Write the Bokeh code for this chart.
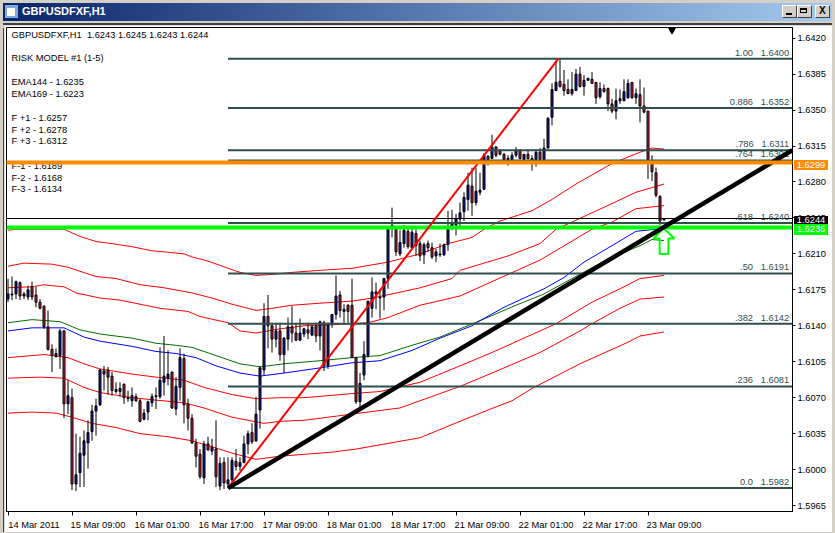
from bokeh.embed import file_html
from bokeh.layouts import column
from bokeh.models import ColumnDataSource, Div, FixedTicker, Label, Range1d
from bokeh.plotting import figure
from bokeh.resources import INLINE
from bokeh.core.properties import value

# ---------- data (prices in pips: 16244 = 1.6244) ----------
highs = [16186,16188,16184,16183,16173,16179,16183,16178,16166,16160,16155,16122,16118,16137,16136,16087,16079,16035,16032,16038,
         16048,16063,16069,16098,16101,16100,16095,16085,16085,16084,16077,16080,16074,16069,16059,16067,16074,16080,16119,16130,
         16116,16095,16090,16118,16113,16069,16054,16030,16020,16028,16032,16030,16048,16012,16012,16012,16012,16020,16012,16033,
         16038,16045,16071,16101,16162,16170,16143,16142,16143,16129,16148,16159,16142,16147,16138,16143,16140,16143,16145,16145,
         16143,16151,16189,16174,16161,16161,16186,16109,16094,16125,16164,16187,16182,16176,16186,16236,16255,16237,16233,16238,
         16237,16236,16234,16223,16221,16223,16221,16215,16220,16220,16252,16253,16249,16260,16270,16289,16294,16294,16289,16308,
         16306,16326,16315,16312,16308,16306,16309,16314,16312,16307,16312,16306,16312,16313,16322,16343,16376,16398,16400,16389,
         16380,16387,16390,16392,16384,16381,16387,16377,16377,16375,16372,16361,16371,16370,16380,16380,16377,16371,16380,16372,
         16349,16306,16294,16267,16245]
lows = [16163,16165,16166,16165,16166,16165,16165,16158,16156,16137,16116,16095,16109,16098,16050,16054,15980,15979,15983,15983,
        16001,16028,16033,16062,16077,16073,16072,16074,16071,16064,16066,16061,16066,16046,16048,16048,16061,16059,16069,16072,
        16082,16059,16053,16067,16045,16038,16025,16002,15991,15986,16019,16014,15983,15980,15981,15982,15986,15999,15999,16006,
        16015,16025,16027,16040,16092,16118,16114,16119,16106,16094,16116,16124,16125,16125,16129,16127,16130,16124,16116,16096,
        16098,16138,16146,16148,16143,16143,16109,16064,16059,16087,16109,16148,16156,16147,16155,16176,16226,16208,16208,16216,
        16215,16215,16208,16203,16200,16212,16205,16202,16207,16208,16213,16233,16228,16237,16242,16252,16247,16257,16267,16272,
        16296,16303,16304,16306,16301,16296,16301,16304,16302,16299,16302,16291,16295,16301,16301,16313,16335,16369,16372,16364,
        16366,16364,16369,16372,16364,16379,16376,16356,16361,16367,16349,16347,16341,16356,16359,16361,16361,16356,16338,16347,
        16283,16281,16265,16238,16243]
opens = [16166,16170,16171,16182,16169,16168,16178,16170,16163,16159,16139,16117,16110,16111,16135,16064,16070,15986,15997,16014,
         16026,16037,16057,16063,16093,16097,16091,16076,16076,16083,16069,16067,16071,16067,16049,16056,16065,16071,16071,16085,
         16089,16095,16059,16080,16108,16064,16050,16026,16015,15992,16025,16018,16020,15984,16007,15986,15990,16008,16003,16007,
         16025,16036,16028,16058,16097,16149,16140,16127,16135,16112,16127,16139,16133,16126,16132,16136,16131,16140,16130,16143,
         16101,16142,16151,16170,16154,16160,16160,16109,16066,16092,16111,16157,16173,16167,16168,16186,16238,16236,16210,16220,
         16232,16216,16230,16220,16209,16220,16216,16208,16210,16209,16219,16237,16238,16244,16251,16263,16276,16260,16270,16273,
         16305,16303,16314,16310,16307,16302,16302,16306,16311,16302,16307,16301,16302,16309,16302,16313,16343,16369,16378,16375,
         16370,16366,16369,16385,16373,16379,16380,16377,16363,16371,16371,16356,16349,16359,16359,16362,16377,16362,16365,16354,
         16349,16298,16289,16266,16243]
closes = [16171,16171,16183,16169,16171,16175,16168,16163,16157,16139,16117,16111,16113,16135,16064,16072,15986,15995,16016,16028,
          16036,16057,16062,16097,16096,16090,16077,16078,16079,16070,16070,16072,16067,16047,16055,16066,16071,16072,16087,16091,
          16093,16060,16081,16109,16063,16050,16026,16013,15993,16025,16019,16022,15993,16006,15987,15990,16009,16003,16007,16025,
          16035,16027,16054,16099,16149,16140,16127,16135,16112,16128,16139,16133,16126,16133,16137,16133,16139,16130,16144,16101,
          16142,16151,16169,16155,16156,16154,16109,16066,16084,16112,16164,16173,16171,16168,16186,16234,16236,16212,16221,16233,
          16217,16231,16218,16208,16219,16216,16207,16212,16209,16219,16234,16239,16244,16250,16265,16277,16260,16271,16272,16306,
          16302,16314,16306,16307,16302,16303,16306,16311,16303,16307,16303,16303,16309,16302,16313,16342,16370,16377,16373,16369,
          16366,16370,16385,16373,16379,16381,16376,16362,16371,16368,16356,16349,16359,16361,16368,16376,16362,16366,16354,16348,
          16302,16290,16267,16242,16244]

band1_bars = [0,2,14,18,22,26,31,36,39,44,46,50,55,58,62,66,71,78,86,95,103,110,116,119,123,131,136,142,151,158,161,164]
band1_vals = [16233,16234,16234,16227,16222,16220,16217,16213,16212,16210,16207,16203,16196,16192,16189,16190,16192,16194,16196,16202,16210,16220,16226,16234,16242,16252,16263,16278,16298,16309,16313,16312]
band2_bars = [0,4,11,15,18,22,27,33,39,46,51,56,62,66,71,78,86,91,96,103,111,113,125,133,137,141,151,157,164]
band2_vals = [16198,16201,16200,16197,16193,16188,16186,16180,16177,16172,16167,16161,16155,16157,16160,16162,16164,16167,16171,16177,16186,16194,16208,16220,16234,16241,16259,16270,16278]
band3_bars = [0,6,9,11,14,17,23,28,33,38,45,48,55,58,62,68,74,81,90,95,103,113,125,133,146,151,157,164]
band3_vals = [16177,16178,16180,16179,16178,16172,16167,16165,16161,16157,16154,16149,16143,16135,16133,16137,16140,16141,16143,16148,16160,16169,16190,16204,16234,16241,16254,16257]
band4_bars = [0,9,15,19,23,31,37,44,49,56,62,68,74,86,93,103,113,121,133,137,146,153,158,164]
band4_vals = [16109,16112,16109,16103,16098,16093,16090,16087,16080,16073,16069,16070,16070,16074,16076,16085,16101,16114,16135,16142,16163,16176,16186,16189]
band5_bars = [0,8,14,19,23,31,36,44,49,56,64,68,74,86,98,113,121,133,143,146,153,158,164]
band5_vals = [16089,16090,16089,16080,16075,16070,16068,16065,16060,16051,16045,16047,16048,16054,16060,16081,16094,16114,16135,16142,16157,16166,16168]
band6_bars = [0,6,12,16,21,27,33,40,46,52,56,62,68,81,87,103,113,120,126,131,143,155,158,164]
band6_vals = [16055,16056,16055,16051,16045,16041,16035,16032,16028,16021,16016,16010,16013,16017,16020,16031,16047,16058,16067,16079,16103,16124,16130,16134]
ema144_bars = [0,6,14,19,23,31,37,42,47,52,58,63,69,78,86,93,101,108,116,118,124,134,139,144,151,157,162,164]
ema144_vals = [16135,16138,16138,16129,16125,16120,16115,16113,16109,16101,16094,16091,16094,16099,16104,16106,16116,16128,16140,16145,16158,16176,16187,16202,16218,16232,16234,16235]
ema169_bars = [0,6,13,18,23,31,37,42,46,52,58,63,69,78,86,93,101,108,113,118,127,134,141,150,158,161,164]
ema169_vals = [16143,16146,16144,16136,16132,16128,16123,16121,16119,16111,16103,16100,16103,16106,16109,16111,16121,16129,16137,16145,16160,16171,16186,16205,16218,16224,16223]

fib_levels = ["1.00", "0.886", ".786", ".764", ".618", ".50", ".382", ".236", "0.0"]
fib_prices = [1.6400, 1.6352, 1.6311, 1.6301, 1.6240, 1.6191, 1.6142, 1.6081, 1.5982]
fib_start_bar = 55
swing_bars = [55, 137.6]
swing_prices = [1.5982, 1.6400]
trend_bars = [55, 196.1]
trend_prices = [1.5982, 1.6311]
arrow_bars = [163.9, 166.6, 165.1, 165.1, 162.9, 162.9, 161.4, 163.9]
arrow_prices = [1.6235, 1.6225, 1.6225, 1.6210, 1.6210, 1.6225, 1.6225, 1.6235]
orange_price = 1.6299
green_price = 1.6236
bid_price = 1.6244

y_ticks = [1.6420, 1.6385, 1.6350, 1.6315, 1.6280, 1.6245, 1.6210, 1.6175, 1.6140, 1.6105, 1.6070, 1.6035, 1.6000, 1.5965]
x_tick_bars = [0, 16, 32, 48, 64, 80, 96, 112, 128, 144, 160]
x_tick_labels = ["14 Mar 2011", "15 Mar 09:00", "16 Mar 01:00", "16 Mar 17:00", "17 Mar 09:00", "18 Mar 01:00",
                 "18 Mar 17:00", "21 Mar 09:00", "22 Mar 01:00", "22 Mar 17:00", "23 Mar 09:00"]

info_lines = [("GBPUSDFXF,H1\u00a0\u00a01.6243 1.6245 1.6243 1.6244", 34), ("RISK MODEL #1 (1-5)", 57),
              ("EMA144 - 1.6235", 81), ("EMA169 - 1.6223", 93),
              ("F +1 - 1.6257", 117), ("F +2 - 1.6278", 129), ("F +3 - 1.6312", 140),
              ("F-1 - 1.6189", 165), ("F-2 - 1.6168", 177), ("F-3 - 1.6134", 188)]

FONT = "Liberation Sans"
FS = "9.3px"
SLATE = "#2f4f4f"
GRAY = "#d4d0c8"
OX, OY = 4, 25  # offset of the figure in the window
FIG_H = 504

p = figure(width=828, height=FIG_H, frame_width=786, frame_height=484,
           x_range=Range1d(-0.375, 196.125), y_range=Range1d(1.59592, 1.64304),
           y_axis_location="right", output_backend="svg", toolbar_location=None,
           min_border_left=2, min_border_right=40, min_border_top=2, min_border_bottom=18,
           background_fill_color="white", border_fill_color="white",
           outline_line_color="black", margin=(0, 3, 0, 4))
p.grid.visible = False

for ax in (p.xaxis[0], p.yaxis[0]):
    ax.axis_line_color = "black"
    ax.major_tick_line_color = "black"
    ax.major_tick_in = 0
    ax.major_tick_out = 3
    ax.major_label_text_font = FONT
    ax.major_label_text_font_size = FS
    ax.major_label_text_color = "black"
p.yaxis[0].minor_tick_line_color = None
p.yaxis[0].ticker = FixedTicker(ticks=y_ticks)
p.yaxis[0].major_label_overrides = {t: f"{t:.4f}" for t in y_ticks}
p.yaxis[0].major_label_standoff = 2
# tick labels start at their tick, so the label centres sit half a label to the right of it
label_centres = [b + 6.5 for b in x_tick_bars]
p.xaxis[0].ticker = FixedTicker(ticks=label_centres, minor_ticks=x_tick_bars)
p.xaxis[0].major_label_overrides = dict(zip(label_centres, x_tick_labels))
p.xaxis[0].major_tick_line_color = None
p.xaxis[0].minor_tick_line_color = "black"
p.xaxis[0].minor_tick_in = 0
p.xaxis[0].minor_tick_out = 4
p.xaxis[0].major_label_standoff = 4

# bands
for xs, ys in [(band1_bars, band1_vals), (band2_bars, band2_vals), (band3_bars, band3_vals),
               (band4_bars, band4_vals), (band5_bars, band5_vals), (band6_bars, band6_vals)]:
    p.line(xs, [v / 1e4 for v in ys], line_color="#ff0000", line_width=1)
p.line(ema169_bars, [v / 1e4 for v in ema169_vals], line_color="#007000", line_width=1)
p.line(ema144_bars, [v / 1e4 for v in ema144_vals], line_color="#0000ff", line_width=1)

# candles
bars = list(range(len(highs)))
src = ColumnDataSource(dict(
    bar=bars,
    high=[v / 1e4 for v in highs], low=[v / 1e4 for v in lows],
    top=[max(o, c) / 1e4 for o, c in zip(opens, closes)],
    bottom=[min(o, c) / 1e4 for o, c in zip(opens, closes)],
    fill=["#1414aa" if c >= o else "#c8203c" for o, c in zip(opens, closes)],
))
p.segment("bar", "high", "bar", "low", source=src, line_color="black", line_width=1)
p.vbar(x="bar", top="top", bottom="bottom", width=0.5, source=src, fill_color="fill", line_color="black", line_width=1)

# horizontal levels
p.hspan(y=[bid_price], line_color="black", line_width=1)
fib_ends = [196.125] * len(fib_prices)
p.segment([fib_start_bar] * len(fib_prices), fib_prices, fib_ends, fib_prices, line_color=SLATE, line_width=2)
p.text(x=[195.3] * len(fib_prices), y=fib_prices,
       text=[f"{l}\u00a0\u00a0\u00a0{v:.4f}" for l, v in zip(fib_levels, fib_prices)],
       text_align="right", text_baseline="alphabetic", y_offset=-6,
       text_color=SLATE, text_font=value(FONT), text_font_size=FS)

p.hspan(y=[green_price], line_color="#00ff00", line_width=4)
p.line(swing_bars, swing_prices, line_color="#ff0000", line_width=2)
p.patch(arrow_bars, arrow_prices, fill_color=None, line_color="#00ff00", line_width=2)
p.line(trend_bars, trend_prices, line_color="black", line_width=4.5)

# info text
for txt, y in info_lines:
    p.add_layout(Label(x=11 - OX, y=y - OY, x_units="canvas", y_units="canvas", text=txt, text_baseline="middle",
                       text_font=FONT, text_font_size=FS, text_color="black"))
p.hspan(y=[orange_price], line_color="#ff8c00", line_width=4, level="overlay")

# shift marker
p.scatter([166], [1.64285], marker="inverted_triangle", size=8, color="black")


def btn(left, inner):
    return (f'<div style="position:absolute;left:{left}px;top:2px;width:15px;height:13px;background:{GRAY};'
            f'border-top:1px solid white;border-left:1px solid white;border-right:1px solid #404040;'
            f'border-bottom:1px solid #404040;box-sizing:border-box;">{inner}</div>')


title_html = (
    f'<div style="position:absolute;left:3px;top:3px;width:829px;height:18px;'
    f'background:linear-gradient(90deg,#0a246a,#a6caf0);">'
    f'<div style="position:absolute;left:2px;top:2px;width:13px;height:13px;background:#7fa8e0;"></div>'
    f'<div style="position:absolute;left:4px;top:5px;width:8px;height:8px;background:white;"></div>'
    f'<span style="position:absolute;left:19px;top:2px;font:bold 11px \'Liberation Sans\';color:white;white-space:nowrap;">GBPUSDFXF,H1</span>'
    + btn(779, '<div style="position:absolute;left:3px;bottom:2px;width:6px;height:2px;background:black;"></div>')
    + btn(794, '<div style="position:absolute;left:2px;top:2px;width:7px;height:5px;border:1px solid black;border-top-width:2px;"></div>')
    + btn(812, '<span style="position:absolute;left:3px;top:-1px;font:bold 10px \'Liberation Sans\';color:black;">X</span>')
    + '</div>'
    '<div style="position:absolute;left:3px;top:23px;width:829px;height:2px;background:#404040;"></div>'
)
top = Div(text=title_html, width=835, height=OY, margin=(0, 0, 0, 0), styles={"background-color": GRAY})


# right-hand price tags and the window's left edge lie on top of the figure; this strip comes
# after it in the page, and its children reach up from the strip's own top (window y = 529)
def tag(y0, y1, bg, label):
    return (f'<div style="position:absolute;left:794px;top:{y0 - 529}px;width:34px;height:{y1 - y0}px;background:{bg};'
            f'color:white;font:{FS} \'Liberation Sans\';line-height:{y1 - y0}px;text-align:center;">{label}</div>')


bottom_html = (
    f'<div style="position:absolute;left:3px;top:-{FIG_H}px;width:1px;height:{FIG_H}px;background:#404040;"></div>'
    + tag(157, 167, "#ff8c00", f"{orange_price:.4f}")
    + tag(213, 221, "black", f"{bid_price:.4f}")
    + tag(221, 232, "#00ff00", f"{green_price:.4f}")
)
bottom = Div(text=bottom_html, width=835, height=4, margin=(0, 0, 0, 0),
             styles={"background-color": GRAY, "overflow": "visible", "z-index": "10"})
page = column(top, p, bottom, spacing=0, margin=(0, 0, 0, 0), styles={"background-color": GRAY})

open("out.html", "w").write(file_html(page, INLINE))
